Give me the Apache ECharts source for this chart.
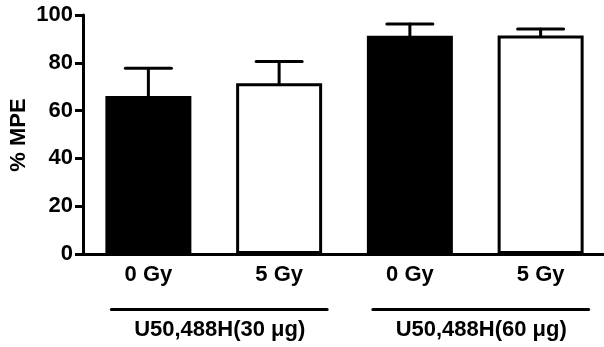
<!DOCTYPE html>
<html>
<head>
<meta charset="utf-8">
<script src="https://cdn.jsdelivr.net/npm/echarts@6/dist/echarts.min.js"></script>
<style>
html,body{margin:0;padding:0;background:#fff;}
#chart{width:604px;height:347px;}
</style>
</head>
<body>
<div id="chart"></div>
<script>
var categories = ['0 Gy', '5 Gy', '0 Gy', '5 Gy'];
var values = [66.1, 71.4, 91.3, 91.4];
var errors = [11.6, 9.1, 4.9, 2.7];
var fills = ['#000000', '#ffffff', '#000000', '#ffffff'];
var groupLabels = ['U50,488H(30 \u03bcg)', 'U50,488H(60 \u03bcg)'];
var groupRanges = [[0, 1], [2, 3]];
var yTicks = [0, 20, 40, 60, 80, 100];
var yTitle = '% MPE';

var FONT = '"Liberation Sans", Arial, sans-serif';
var chart = echarts.init(document.getElementById('chart'));

var option = {
  animation: false,
  backgroundColor: '#ffffff',
  grid: { left: 83, right: -2, top: 15, bottom: 93, containLabel: false, outerBoundsMode: 'none' },
  xAxis: {
    type: 'category',
    data: categories,
    axisLine: { lineStyle: { color: '#000', width: 3 } },
    axisTick: { show: false },
    axisLabel: { interval: 0, margin: 10, color: '#000', fontFamily: FONT, fontWeight: 'bold', fontSize: 22 },
    splitLine: { show: false }
  },
  yAxis: {
    type: 'value',
    min: yTicks[0], max: yTicks[yTicks.length - 1], interval: 20,
    axisLine: { show: true, lineStyle: { color: '#000', width: 3 } },
    axisTick: { show: true, inside: false, length: 8, lineStyle: { color: '#000', width: 3 } },
    axisLabel: { margin: 10, color: '#000', fontFamily: FONT, fontWeight: 'bold', fontSize: 22 },
    splitLine: { show: false }
  },
  series: [
    {
      type: 'custom',
      z: 1,
      renderItem: function (params, api) {
        var i = api.value(0);
        var v = api.value(1);
        var e = api.value(2);
        var p0 = api.coord([i, v]);
        var p1 = api.coord([i, v + e]);
        var half = 23;
        var style = { stroke: '#000', lineWidth: 3, lineCap: 'round' };
        return {
          type: 'group',
          children: [
            { type: 'line', shape: { x1: p0[0], y1: p0[1], x2: p1[0], y2: p1[1] }, style: style },
            { type: 'line', shape: { x1: p1[0] - half, y1: p1[1], x2: p1[0] + half, y2: p1[1] }, style: style }
          ]
        };
      },
      data: values.map(function (v, i) { return [i, v, errors[i]]; })
    },
    {
      type: 'bar',
      z: 2,
      barWidth: 86,
      data: values.map(function (v, i) {
        return { value: v, itemStyle: { color: fills[i], borderColor: '#000', borderWidth: 3 } };
      })
    }
  ]
};
chart.setOption(option);

var graphics = [];
groupRanges.forEach(function (r, g) {
  var a = chart.convertToPixel({ xAxisIndex: 0 }, r[0]);
  var b = chart.convertToPixel({ xAxisIndex: 0 }, r[1]);
  var x1 = a - 37, x2 = b + 48;
  graphics.push({
    type: 'line',
    shape: { x1: x1, y1: 309.5, x2: x2, y2: 309.5 },
    style: { stroke: '#000', lineWidth: 3, lineCap: 'round' }
  });
  graphics.push({
    type: 'text',
    x: (a + b) / 2 + 6,
    y: 330,
    style: { text: groupLabels[g], fill: '#000', font: 'bold 22px ' + FONT, textAlign: 'center', textVerticalAlign: 'middle' }
  });
});
graphics.push({
  type: 'text',
  x: 19,
  y: 135,
  rotation: Math.PI / 2,
  style: { text: yTitle, fill: '#000', font: 'bold 22px ' + FONT, textAlign: 'center', textVerticalAlign: 'middle' }
});
chart.setOption({ graphic: graphics });
</script>
</body>
</html>
